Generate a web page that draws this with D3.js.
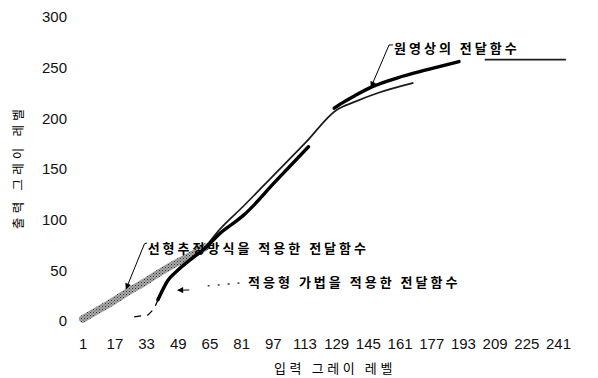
<!DOCTYPE html>
<html>
<head>
<meta charset="utf-8">
<script src="https://cdn.jsdelivr.net/npm/d3@7"></script>
<style>
  html, body { margin: 0; padding: 0; background: #fff; }
  svg { display: block; }
</style>
</head>
<body>
<svg id="chart" width="598" height="378"></svg>
<script>
// Axis ticks
const xTicks = [1, 17, 33, 49, 65, 81, 97, 113, 129, 145, 161, 177, 193, 209, 225, 241];
const yTicks = [0, 50, 100, 150, 200, 250, 300];

// Transfer function with the linear estimation method (gray band)
const linearIn  = [1, 8, 16, 24, 32, 40, 48, 56, 63];
const linearOut = [2, 10, 19, 29, 38, 48, 57, 65, 73];

// Transfer function of the original image (thin line; null = gap)
const originalIn  = [63, 70, 82, 98, 114, 129, 138, 150, 168, 186, 204, 245];
const originalOut = [73, 90, 113, 145, 177, 208, 216, 225, 235, null, 258, 258];

// Transfer function with the adaptive method (thick line; null = gap)
const adaptiveIn  = [27, 34, 37, 39, 44, 49, 57, 63, 70, 76, 82, 98, 115, 121, 128, 131, 139, 147, 160, 175, 191];
const adaptiveOut = [4, 6, 12, 21, 40, 50, 63, 72, 86, 95, 104, 137, 172, null, 210, 214, 223, 231, 240, 248, 256];
const adaptiveDashedUntil = 39;

// Callouts (anchor points in data units)
const callouts = [
  { text: "원영상의 전달함수", at: [158.2, 269.4],
    path: [[157.7, 272.4], [155.7, 272.4], [146.6, 230.9]], dashed: false },
  { text: "선형추정방식을 적용한 전달함수", at: [33.8, 72],
    path: [[33.5, 77], [32.2, 76.2], [22.9, 31.6]], dashed: false },
  { text: "적응형 가법을 적용한 전달함수", at: [84.5, 38.5],
    path: [[80.2, 37.5], [63.5, 34.5]], dashed: true,
    arrow: [[54.8, 30.6], [49.0, 30.4]] }
];

const svg = d3.select("#chart");
const x = d3.scaleLinear().domain([1, 241]).range([82.7, 558]);
const y = d3.scaleLinear().domain([0, 300]).range([321, 17]);

const defs = svg.append("defs");
const pat = defs.append("pattern")
  .attr("id", "stipple").attr("patternUnits", "userSpaceOnUse")
  .attr("width", 3).attr("height", 3);
pat.append("rect").attr("width", 3).attr("height", 3).attr("fill", "#a9a9a9");
pat.append("rect").attr("x", 0).attr("y", 0).attr("width", 1).attr("height", 1).attr("fill", "#333");
pat.append("rect").attr("x", 1.5).attr("y", 1.5).attr("width", 1).attr("height", 1).attr("fill", "#555");

defs.append("marker")
  .attr("id", "head").attr("viewBox", "0 0 10 10")
  .attr("refX", 9).attr("refY", 5)
  .attr("markerWidth", 7).attr("markerHeight", 6)
  .attr("markerUnits", "userSpaceOnUse")
  .attr("orient", "auto")
  .append("path").attr("d", "M0,0 L10,5 L0,10 Z").attr("fill", "#000");

// Axes (labels only)
const tickFont = "'Liberation Sans', Arial, sans-serif";
const gx = svg.append("g").attr("transform", "translate(0,331)")
  .call(d3.axisBottom(x).tickValues(xTicks).tickSize(0).tickPadding(7).tickFormat(d3.format("d")));
const gy = svg.append("g").attr("transform", "translate(67,0)")
  .call(d3.axisLeft(y).tickValues(yTicks).tickSize(0).tickPadding(0));
[gx, gy].forEach(g => {
  g.select(".domain").remove();
  g.selectAll("text").attr("font-family", tickFont).attr("font-size", 15).attr("fill", "#111");
});

const hangul = "'Noto Sans CJK KR', 'Noto Sans', sans-serif";
svg.append("text")
  .attr("x", 335).attr("y", 373)
  .attr("text-anchor", "middle")
  .attr("font-family", hangul).attr("font-size", 13)
  .attr("letter-spacing", 3.6)
  .text("입력 그레이 레벨");
svg.append("text")
  .attr("transform", "translate(23,167) rotate(-90)")
  .attr("text-anchor", "middle")
  .attr("font-family", hangul).attr("font-size", 12.5)
  .attr("letter-spacing", 4.2)
  .text("출력 그레이 레벨");

const zip = (xs, ys) => xs.map((v, i) => [v, ys[i]]);
const line = d3.line()
  .defined(d => d[1] != null)
  .x(d => x(d[0])).y(d => y(d[1]))
  .curve(d3.curveMonotoneX);

// Linear estimation method: stippled gray band
svg.append("path")
  .datum(zip(linearIn, linearOut))
  .attr("d", line)
  .attr("fill", "none")
  .attr("stroke", "url(#stipple)")
  .attr("stroke-width", 7.5)
  .attr("stroke-linecap", "round");

// Original image
svg.append("path")
  .datum(zip(originalIn, originalOut))
  .attr("d", line)
  .attr("fill", "none")
  .attr("stroke", "#1a1a1a")
  .attr("stroke-width", 1.7);

// Adaptive method: dashed foot, then thick line
const adaptive = zip(adaptiveIn, adaptiveOut);
svg.append("path")
  .datum(adaptive.filter(d => d[0] <= adaptiveDashedUntil))
  .attr("d", line.curve(d3.curveLinear))
  .attr("fill", "none")
  .attr("stroke", "#000")
  .attr("stroke-width", 1.3)
  .attr("stroke-dasharray", "7,6");
svg.append("path")
  .datum(adaptive.filter(d => d[0] >= adaptiveDashedUntil))
  .attr("d", line.curve(d3.curveMonotoneX))
  .attr("fill", "none")
  .attr("stroke", "#000")
  .attr("stroke-width", 3.4)
  .attr("stroke-linecap", "round");

// Callouts
const plain = d3.line().x(d => x(d[0])).y(d => y(d[1]));
callouts.forEach(c => {
  svg.append("path")
    .attr("d", plain(c.path))
    .attr("fill", "none")
    .attr("stroke", "#000")
    .attr("stroke-width", c.dashed ? 1.2 : 1)
    .attr("stroke-dasharray", c.dashed ? "2,8" : null)
    .attr("marker-end", c.dashed ? null : "url(#head)");
  if (c.arrow) {
    svg.append("path")
      .attr("d", plain(c.arrow))
      .attr("fill", "none")
      .attr("stroke", "#000")
      .attr("stroke-width", 1)
      .attr("marker-end", "url(#head)");
  }
  svg.append("text")
    .attr("x", x(c.at[0])).attr("y", y(c.at[1]))
    .attr("dy", "0.36em")
    .attr("font-family", hangul).attr("font-size", 13)
    .attr("font-weight", "bold")
    .attr("letter-spacing", 3)
    .text(c.text);
});
</script>
</body>
</html>
